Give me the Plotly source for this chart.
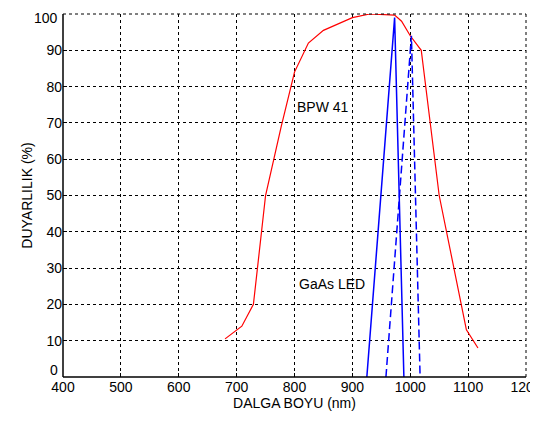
import plotly.graph_objects as go

# BPW 41 photodiode spectral response
bpw_x = [680, 709, 729, 750, 777, 800, 824, 850, 900, 930, 973, 985, 1000, 1019, 1050, 1097, 1117]
bpw_y = [10.5, 14, 20, 50, 69, 84, 92, 95.5, 99, 100, 99.7, 98, 94, 90, 50, 13, 8]

# GaAs LED emission (solid and dashed triangles)
led1_x = [925, 973, 989]
led1_y = [0, 99, 0]
led2_x = [958, 1002, 1017]
led2_y = [0, 94, 0]

x_ticks = [400, 500, 600, 700, 800, 900, 1000, 1100, 1200]
y_ticks = [0, 10, 20, 30, 40, 50, 60, 70, 80, 90, 100]

FONT = "Liberation Sans, Arial, sans-serif"

fig = go.Figure()
fig.add_trace(go.Scatter(x=bpw_x, y=bpw_y, mode="lines",
                         line=dict(color="#ff0000", width=1.2), showlegend=False))
fig.add_trace(go.Scatter(x=led1_x, y=led1_y, mode="lines",
                         line=dict(color="#0000ff", width=1.5), showlegend=False))
fig.add_trace(go.Scatter(x=led2_x, y=led2_y, mode="lines",
                         line=dict(color="#0000ff", width=1.5, dash="8px,4px"), showlegend=False))

fig.add_annotation(x=800, y=74.5, text="BPW 41", showarrow=False, xanchor="left",
                   font=dict(size=14, color="black", family=FONT))
fig.add_annotation(x=804, y=25.5, text="GaAs LED", showarrow=False, xanchor="left",
                   font=dict(size=14, color="black", family=FONT))

# the y "0" label sits slightly above the axis, the "100" label kept inside the page
fig.add_annotation(xref="paper", x=0, y=y_ticks[0], text=str(y_ticks[0]), showarrow=False,
                   xanchor="right", yanchor="bottom", xshift=-3, yshift=-3,
                   font=dict(size=14, color="black", family=FONT))
fig.add_annotation(xref="paper", x=0, y=y_ticks[-1], text=str(y_ticks[-1]), showarrow=False,
                   xanchor="right", yanchor="top", xshift=-3, yshift=6,
                   font=dict(size=14, color="black", family=FONT))

axis_common = dict(
    showgrid=True, gridcolor="black", griddash="3px,3px", gridwidth=1,
    showline=False, zeroline=False, automargin=False,
    ticks="inside", ticklen=4, tickcolor="black",
    ticklabeloverflow="allow",
    tickfont=dict(family=FONT, size=14, color="black"),
)

y_text = [""] + [str(v) for v in y_ticks[1:-1]] + [""]

# page body has an 8px default margin, so the figure is shrunk by 8px
fig.update_layout(
    width=530, height=415,
    margin=dict(l=55, r=12, t=6, b=46),
    paper_bgcolor="white", plot_bgcolor="white",
    font=dict(family=FONT, size=14, color="black"),
    xaxis=dict(range=[400, 1200], tickvals=x_ticks, ticktext=[str(v) for v in x_ticks],
               title=dict(text="DALGA BOYU (nm)", standoff=2, font=dict(size=14)),
               **axis_common),
    yaxis=dict(range=[0, 100], tickvals=y_ticks, ticktext=y_text,
               title=dict(text="DUYARLILIK (%)", standoff=10, font=dict(size=14)),
               **axis_common),
)

# dashed top and right grid lines at the range edges
fig.add_shape(type="line", xref="paper", yref="paper", x0=0, y0=1, x1=1, y1=1,
              line=dict(color="black", width=1, dash="3px,3px"))
fig.add_shape(type="line", xref="paper", yref="paper", x0=1, y0=0, x1=1, y1=1,
              line=dict(color="black", width=1, dash="3px,3px"))
# solid left and bottom axis lines
fig.add_shape(type="line", xref="paper", yref="paper", x0=0, y0=0, x1=1, y1=0,
              line=dict(color="black", width=1.5))
fig.add_shape(type="line", xref="paper", yref="paper", x0=0, y0=0, x1=0, y1=1,
              line=dict(color="black", width=1.5))

fig.write_html("out.html")
